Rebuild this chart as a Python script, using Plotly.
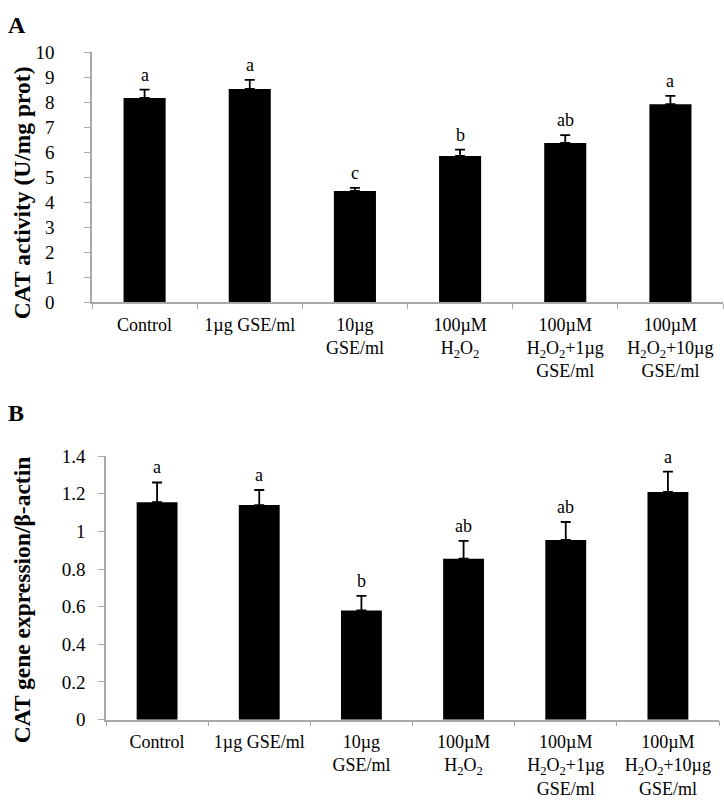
import plotly.graph_objects as go

categories = ["Control", "1µg GSE/ml", "10µg GSE/ml", "100µM H2O2",
              "100µM H2O2+1µg GSE/ml", "100µM H2O2+10µg GSE/ml"]
tick_labels = ["Control", "1µg GSE/ml", "10µg<br>GSE/ml",
               "100µM<br>H<sub>2</sub>O<sub>2</sub>",
               "100µM<br>H<sub>2</sub>O<sub>2</sub>+1µg<br>GSE/ml",
               "100µM<br>H<sub>2</sub>O<sub>2</sub>+10µg<br>GSE/ml"]

cat_activity = [8.17, 8.53, 4.45, 5.85, 6.37, 7.92]
cat_activity_err = [0.33, 0.36, 0.12, 0.25, 0.31, 0.33]
cat_activity_letters = ["a", "a", "c", "b", "ab", "a"]

cat_expr = [1.155, 1.14, 0.58, 0.855, 0.955, 1.21]
cat_expr_err = [0.105, 0.08, 0.078, 0.095, 0.095, 0.108]
cat_expr_letters = ["a", "a", "b", "ab", "ab", "a"]

FONT = "Liberation Serif, Times New Roman, serif"
AX = "#a8a8a8"

fig = go.Figure()

fig.add_trace(go.Bar(
    x=categories, y=cat_activity, xaxis="x", yaxis="y",
    marker=dict(color="black", line=dict(width=0)),
    error_y=dict(type="data", array=cat_activity_err, arrayminus=[0]*6,
                 symmetric=False, color="black", thickness=1.8, width=5),
    showlegend=False, hoverinfo="skip"))
fig.add_trace(go.Bar(
    x=categories, y=cat_expr, xaxis="x2", yaxis="y2",
    marker=dict(color="black", line=dict(width=0)),
    error_y=dict(type="data", array=cat_expr_err, arrayminus=[0]*6,
                 symmetric=False, color="black", thickness=1.8, width=5),
    showlegend=False, hoverinfo="skip"))

annotations = []
for c, v, e, t in zip(categories, cat_activity, cat_activity_err, cat_activity_letters):
    annotations.append(dict(x=c, y=v + e, xref="x", yref="y", text=t,
                            showarrow=False, yanchor="bottom", yshift=3,
                            font=dict(family=FONT, size=18, color="black")))
for c, v, e, t in zip(categories, cat_expr, cat_expr_err, cat_expr_letters):
    annotations.append(dict(x=c, y=v + e, xref="x2", yref="y2", text=t,
                            showarrow=False, yanchor="bottom", yshift=3,
                            font=dict(family=FONT, size=18, color="black")))

annotations += [
    dict(x=6/724, y=1 - 15/811, xref="paper", yref="paper", text="<b>A</b>",
         showarrow=False, xanchor="left", yanchor="middle",
         font=dict(family=FONT, size=24, color="black")),
    dict(x=6/724, y=1 - 414/811, xref="paper", yref="paper", text="<b>B</b>",
         showarrow=False, xanchor="left", yanchor="middle",
         font=dict(family=FONT, size=24, color="black")),
    dict(x=22/724, y=1 - 188/811, xref="paper", yref="paper",
         text="<b>CAT activity (U/mg prot)</b>", textangle=-90,
         showarrow=False, xanchor="center", yanchor="middle",
         font=dict(family=FONT, size=23.5, color="black")),
    dict(x=22/724, y=1 - 606/811, xref="paper", yref="paper",
         text="<b>CAT gene expression/β-actin</b>", textangle=-90,
         showarrow=False, xanchor="center", yanchor="middle",
         font=dict(family=FONT, size=23.5, color="black")),
]

xcommon = dict(type="category", showline=True, linecolor=AX, linewidth=1.5,
               ticks="outside", tickson="boundaries", ticklen=5, tickcolor=AX,
               tickwidth=1.2, tickvals=categories, ticktext=tick_labels,
               tickfont=dict(family=FONT, size=18, color="black"),
               ticklabelstandoff=5,
               showgrid=False, zeroline=False, fixedrange=True)
ycommon = dict(showline=True, linecolor=AX, linewidth=1.5, ticks="outside",
               ticklen=6, tickcolor=AX, tickwidth=1.2, showgrid=False,
               zeroline=False, fixedrange=True,
               tickfont=dict(family=FONT, size=19, color="black"))

fig.update_layout(
    width=724, height=811,
    margin=dict(l=0, r=0, t=0, b=0),
    paper_bgcolor="white", plot_bgcolor="white",
    bargap=0.6,
    xaxis=dict(domain=[92/724, 723/724], anchor="y", **xcommon),
    yaxis=dict(domain=[1 - 300/811, 1 - 43.3/811], anchor="x",
               range=[0, 10], dtick=1, ticklabelstandoff=26, **ycommon),
    xaxis2=dict(domain=[106/724, 719/724], anchor="y2", **xcommon),
    yaxis2=dict(domain=[1 - 728.5/811, 1 - 458/811], anchor="x2",
                range=[0, 1.4], dtick=0.2, tickformat="~g",
                ticklabelstandoff=9, **ycommon),
    annotations=annotations,
)

fig.write_html("out.html", config={"displayModeBar": False},
               post_script="document.body.style.margin='0';document.body.style.overflow='hidden';")
